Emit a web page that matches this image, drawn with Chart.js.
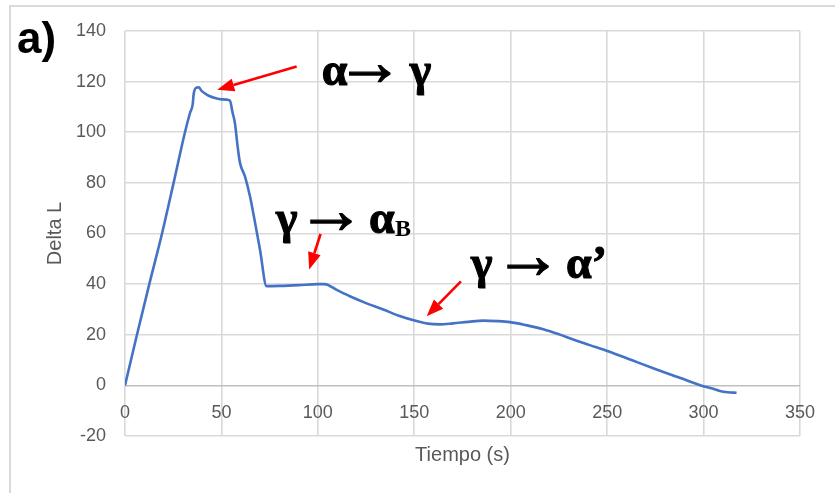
<!DOCTYPE html>
<html>
<head>
<meta charset="utf-8">
<script src="https://cdn.jsdelivr.net/npm/chart.js@4/dist/chart.umd.min.js"></script>
<style>
  html, body { margin: 0; padding: 0; background: #fff; }
  #wrap { width: 835px; height: 493px; }
</style>
</head>
<body>
<div id="wrap"><canvas id="c" width="835" height="493"></canvas></div>
<script>
// Dilatometry run: length change against time
const timeSeconds = [0, 6.2, 12.6, 19.2, 25.2, 31.1, 33.7, 35.1, 35.6, 36.7, 38.4, 39.5, 41.5, 44, 46.7, 50,
  54.4, 55.7, 57, 58.3, 59.6, 62.2, 64.8, 67.5, 70, 73.4, 80, 90, 100, 103.5, 110, 116.6, 125,
  133.9, 142, 151.2, 157, 163.3, 170, 178, 185.7, 193, 199.6, 208, 216.9, 225, 232.4, 241, 250.5,
  263, 275.6, 288, 299.8, 305, 308.5, 312.5, 317.1];
const deltaL = [0, 20, 40, 60, 80, 100, 107.6, 111, 115, 117.5, 117.8, 116.5, 115.3, 114.2, 113.5, 113,
  112.6, 108, 103.6, 95, 88, 82.6, 74.7, 64, 53.6, 39.2, 39.3, 39.6, 40, 40, 37.6, 35.2, 32.5,
  30, 27.5, 25.4, 24.4, 24.1, 24.5, 25.1, 25.6, 25.4, 25, 23.8, 22.2, 20.2, 18.1, 15.9, 13.5,
  9.9, 6.3, 2.9, -0.3, -1.3, -2.2, -2.7, -2.9];
const xTickValues = [0, 50, 100, 150, 200, 250, 300, 350];
const yTickValues = [-20, 0, 20, 40, 60, 80, 100, 120, 140];

// Phase-transition notes: each is a row of pieces [text, x offset in px, kind]
// kind: g = greek letter, a = arrow sign, s = subscript
const notePieces = [
  [['α', 0, 'g'], ['→', 26, 'a'], ['γ', 86, 'g']],
  [['γ', 0, 'g'], ['→', 35, 'a'], ['α', 95, 'g'], ['B', 120, 's']],
  [['γ', 0, 'g'], ['→', 37, 'a'], ['α’', 97, 'g']]
];
// note anchors (left edge, baseline) in data units (time, delta L)
const noteAnchors = [[102.5, 118.6], [77.8, 60.2], [178.9, 42.5]];
const arrowTails = [[89.0, 126.0], [101.4, 59.8], [174.2, 41.1]];
const arrowTips = [[47.8, 116.8], [95.5, 45.8], [156.4, 27.3]];

const GRID = '#d9d9d9';
const TEXT = '#595959';
const SANS = '"Liberation Sans", Arial, sans-serif';
const SERIF = '"Liberation Serif", "Times New Roman", "DejaVu Serif", serif';

function useTicks(values) {
  return scale => { scale.ticks = values.map(v => ({ value: v })); };
}

function drawArrow(c, x1, y1, x2, y2) {
  const ang = Math.atan2(y2 - y1, x2 - x1);
  const headLen = 17, headHalf = 6.5;
  const bx = x2 - headLen * Math.cos(ang), by = y2 - headLen * Math.sin(ang);
  c.strokeStyle = '#ff0000';
  c.fillStyle = '#ff0000';
  c.lineWidth = 2.6;
  c.beginPath();
  c.moveTo(x1, y1);
  c.lineTo(bx, by);
  c.stroke();
  c.beginPath();
  c.moveTo(x2, y2);
  c.lineTo(bx + headHalf * Math.sin(ang), by - headHalf * Math.cos(ang));
  c.lineTo(bx - headHalf * Math.sin(ang), by + headHalf * Math.cos(ang));
  c.closePath();
  c.fill();
}

function drawPiece(c, text, inkLeft, baseline, kind) {
  c.fillStyle = '#000';
  c.strokeStyle = '#000';
  if (kind === 'a') {
    c.font = 'bold 68px ' + SERIF;
    const m = c.measureText(text);
    // centre the arrow shaft about 11px above the baseline
    const y = baseline - 11.5 + (m.actualBoundingBoxAscent - m.actualBoundingBoxDescent) / 2;
    c.lineWidth = 1.3;
    c.fillText(text, inkLeft + m.actualBoundingBoxLeft, y);
    c.strokeText(text, inkLeft + m.actualBoundingBoxLeft, y);
    return;
  }
  if (kind === 's') {
    c.font = 'bold 24px ' + SERIF;
    const m = c.measureText(text);
    c.fillText(text, inkLeft + m.actualBoundingBoxLeft, baseline + 3.5);
    return;
  }
  c.font = 'bold 46px ' + SERIF;
  const m = c.measureText(text);
  c.lineWidth = 1.1;
  c.fillText(text, inkLeft + m.actualBoundingBoxLeft, baseline);
  c.strokeText(text, inkLeft + m.actualBoundingBoxLeft, baseline);
}

const frameAndNotes = {
  id: 'frameAndNotes',
  beforeDraw(chart) {
    const c = chart.ctx;
    c.save();
    c.fillStyle = '#fff';
    c.fillRect(0, 0, chart.width, chart.height);
    c.strokeStyle = GRID;
    c.lineWidth = 2;
    c.beginPath();
    c.moveTo(10, chart.height);
    c.lineTo(10, 6);
    c.lineTo(chart.width, 6);
    c.stroke();
    c.restore();
  },
  afterDraw(chart) {
    const c = chart.ctx;
    const xs = chart.scales.x, ys = chart.scales.y;
    c.save();
    c.textBaseline = 'alphabetic';
    c.textAlign = 'left';
    // panel letter
    c.fillStyle = '#000';
    c.font = 'bold 44px ' + SANS;
    c.fillText('a)', 17, 53);

    // red pointers
    arrowTails.forEach((tail, i) => {
      const tip = arrowTips[i];
      drawArrow(c, xs.getPixelForValue(tail[0]), ys.getPixelForValue(tail[1]),
        xs.getPixelForValue(tip[0]), ys.getPixelForValue(tip[1]));
    });

    // transition labels
    notePieces.forEach((pieces, i) => {
      const px = xs.getPixelForValue(noteAnchors[i][0]);
      const py = ys.getPixelForValue(noteAnchors[i][1]);
      pieces.forEach(([text, dx, kind]) => drawPiece(c, text, px + dx, py, kind));
    });
    c.restore();
  }
};

new Chart(document.getElementById('c').getContext('2d'), {
  type: 'line',
  data: {
    datasets: [{
      data: timeSeconds.map((t, i) => ({ x: t, y: deltaL[i] })),
      borderColor: '#4472C4',
      borderWidth: 2.6,
      pointRadius: 0,
      fill: false,
      cubicInterpolationMode: 'monotone',
      xAxisID: 'x',
      yAxisID: 'y'
    }]
  },
  options: {
    responsive: false,
    animation: false,
    devicePixelRatio: 1,
    layout: { padding: { left: 10, right: 35, top: 31, bottom: 0 } },
    plugins: { legend: { display: false }, tooltip: { enabled: false } },
    scales: {
      x: {
        type: 'linear',
        position: { y: 0 },
        min: 0, max: 350,
        afterBuildTicks: useTicks(xTickValues),
        afterFit: s => { s.height = 0; },
        grid: { display: false, drawTicks: false },
        border: { display: false },
        ticks: { color: TEXT, font: { family: SANS, size: 18 }, padding: 17, maxRotation: 0, autoSkip: false }
      },
      xb: {
        type: 'linear',
        position: 'bottom',
        min: 0, max: 350,
        afterBuildTicks: useTicks(xTickValues),
        afterFit: s => { s.height = 57; },
        grid: { color: GRID, lineWidth: 1.6, drawTicks: false },
        border: { display: false },
        ticks: { display: false },
        title: { display: true, text: 'Tiempo (s)', color: TEXT, font: { family: SANS, size: 20 }, padding: { top: 4, bottom: 26 } }
      },
      y: {
        type: 'linear',
        position: 'left',
        min: -20, max: 140,
        afterBuildTicks: useTicks(yTickValues),
        afterFit: s => { s.width = 115; },
        grid: { color: ctx => (ctx.tick && ctx.tick.value === 0 ? '#bfbfbf' : GRID), lineWidth: 1.6, drawTicks: false },
        border: { display: false },
        ticks: { color: TEXT, font: { family: SANS, size: 18 }, padding: 19 },
        title: { display: true, text: 'Delta L', color: TEXT, font: { family: SANS, size: 20 }, padding: { top: 33, bottom: 0 } }
      }
    }
  },
  plugins: [frameAndNotes]
});
</script>
</body>
</html>
